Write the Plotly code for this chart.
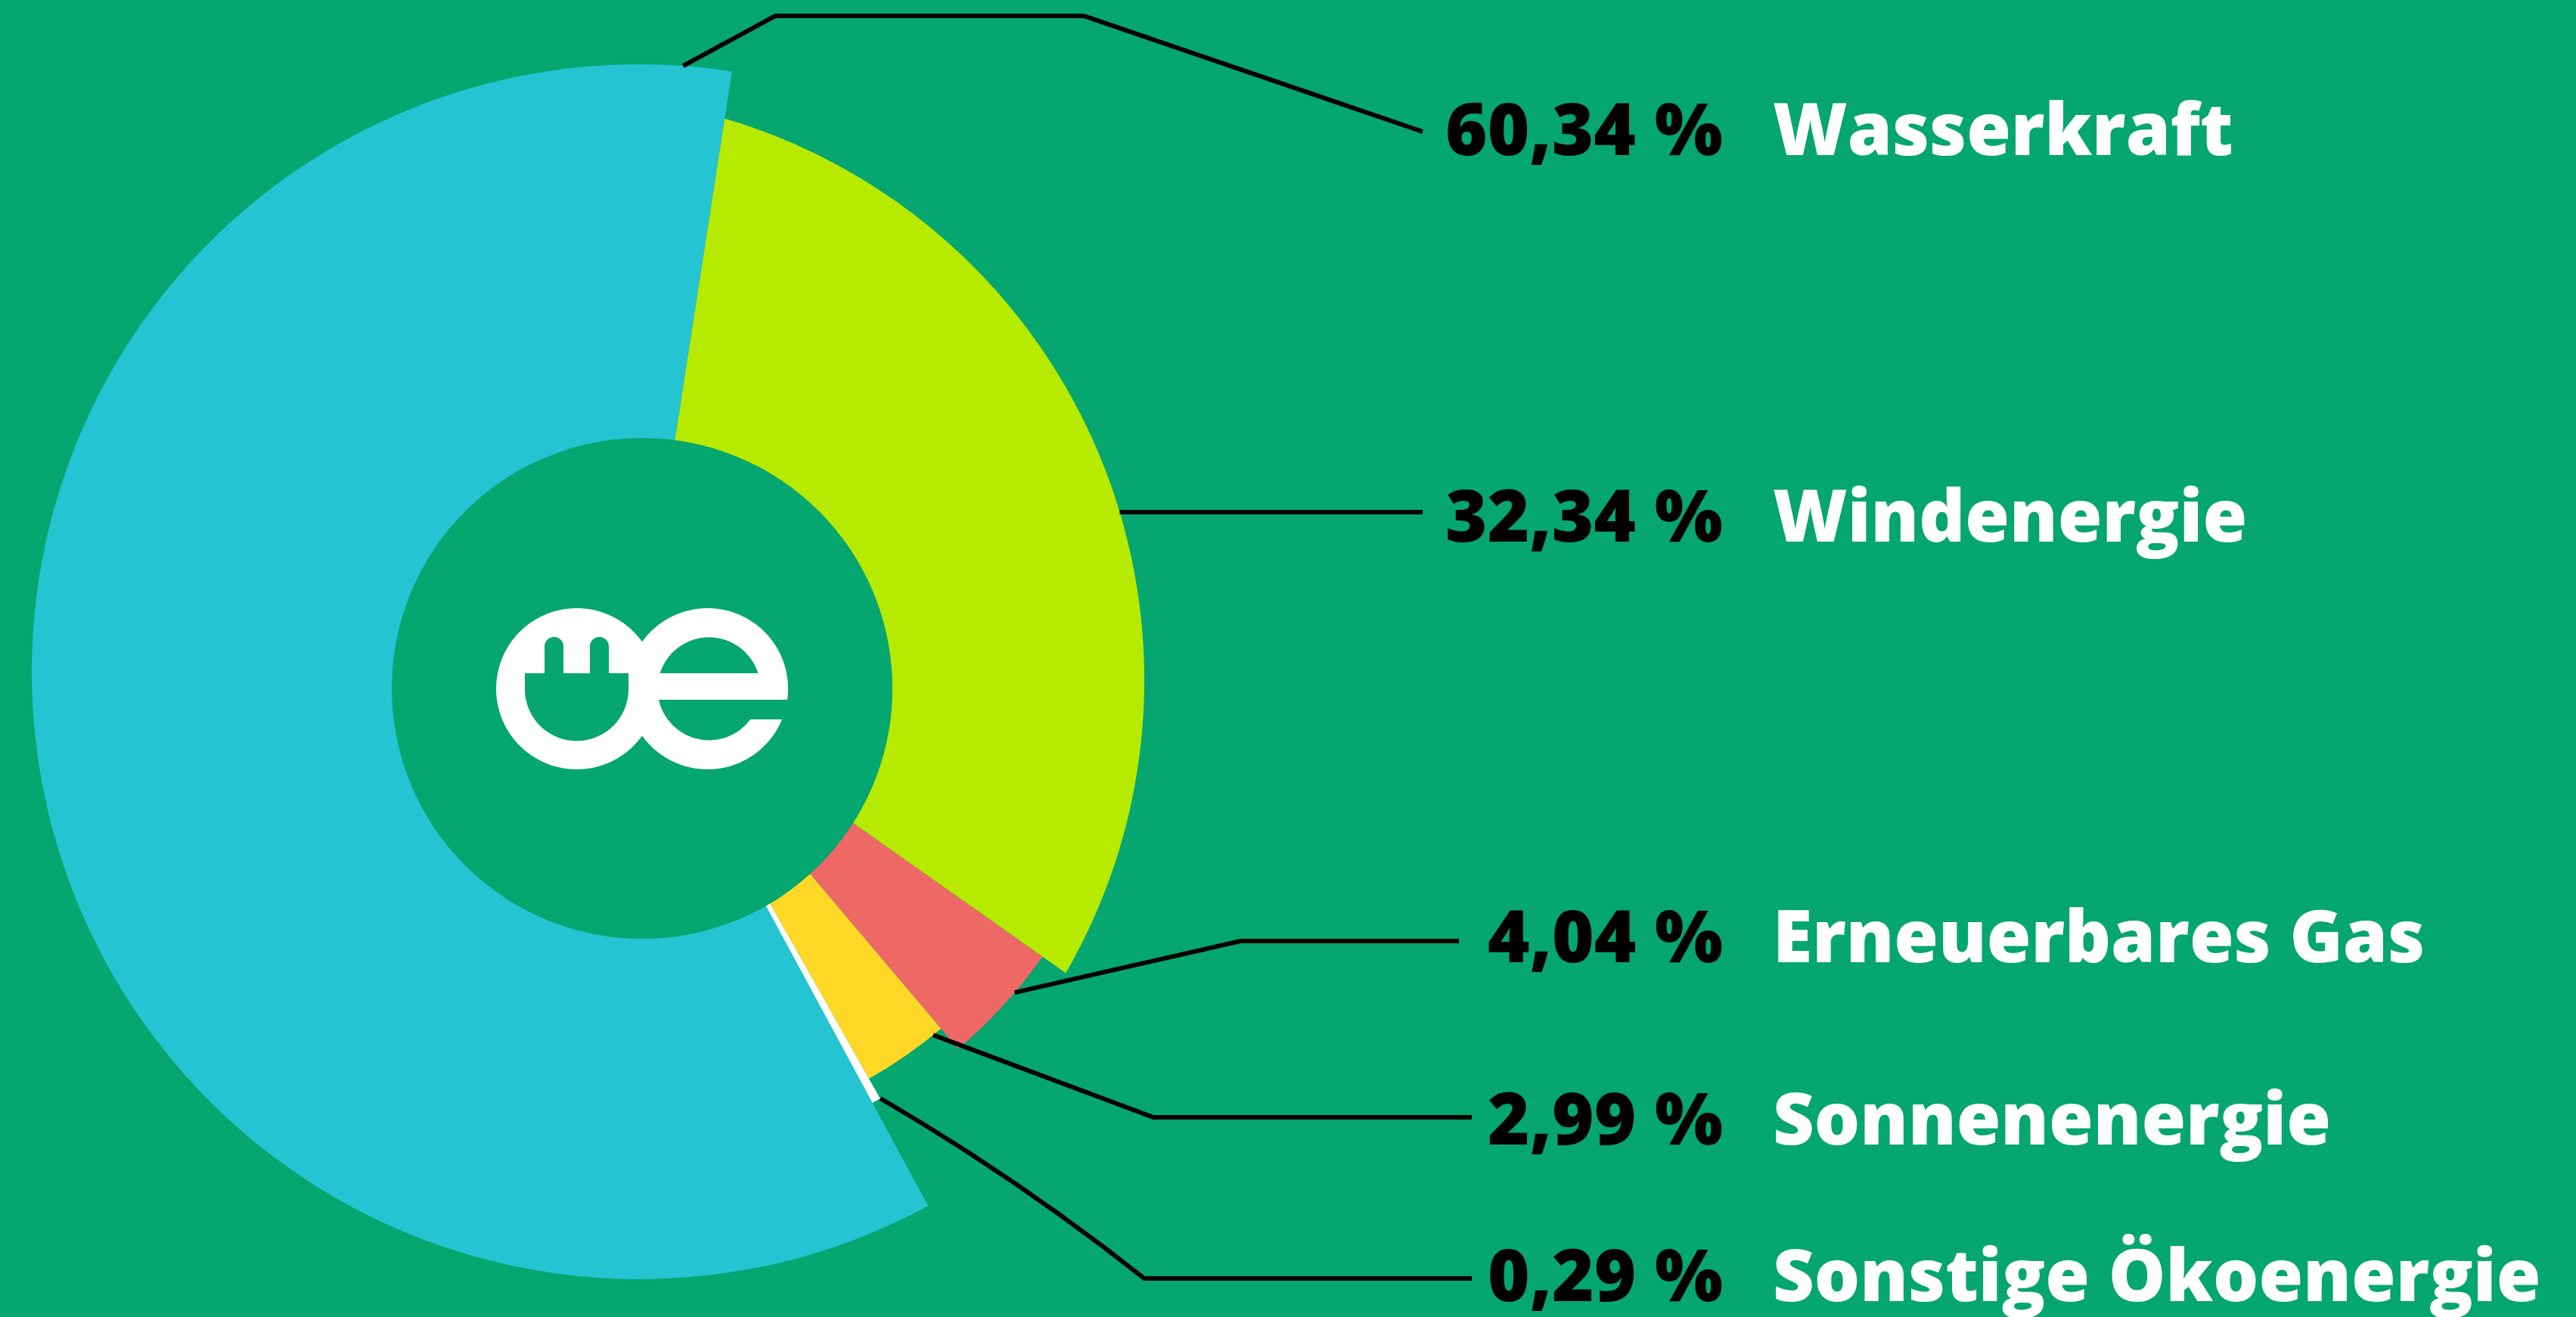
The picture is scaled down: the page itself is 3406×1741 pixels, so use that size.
import numpy as np
import plotly.graph_objects as go

# ---------------- data ----------------
categories = ["Windenergie", "Erneuerbares Gas", "Sonnenenergie",
              "Sonstige Ökoenergie", "Wasserkraft"]          # clockwise order
shares = [32.34, 4.04, 2.99, 0.29, 60.34]                     # percent
label_order = ["Wasserkraft", "Windenergie", "Erneuerbares Gas",
               "Sonnenenergie", "Sonstige Ökoenergie"]        # top -> bottom

# ---------------- styling / layout ----------------
W, H = 3406, 1741
BG = "#05A66F"
slice_colors = ["#B6EA00", "#EE6865", "#FFD826", "#FFFFFF", "#25C4D3"]
slice_radius_px = [700, 653, 618, 648, 803]   # decorative outer radii
# the wind slice's outer edge is an arc of an off-centre circle (px)
WIND_ARC_C, WIND_ARC_R = (739, 899), 774
START_DEG = 8.8                                # where the first slice begins
CX, CY = 845, 888                              # pie centre (px)
RMAX = 840                                     # radial axis range (px)
HOLE_C, HOLE_R = (849, 910), 331

label_y = [168, 679, 1235, 1476, 1683]
pct_right_x = 2280
name_left_x = 2342
FONT = "Open Sans"
FSIZE = 95


def to_paper(x, y):
    return x / W, 1 - y / H


def polar_px(theta_deg, r):
    t = np.radians(theta_deg)
    return CX + r * np.sin(t), CY - r * np.cos(t)


def wind_edge_r(theta_deg):
    """distance from pie centre to the wind arc along direction theta"""
    t = np.radians(theta_deg)
    dx, dy = np.sin(t), -np.cos(t)
    vx, vy = CX - WIND_ARC_C[0], CY - WIND_ARC_C[1]
    b = vx * dx + vy * dy
    return -b + np.sqrt(b * b - (vx * vx + vy * vy) + WIND_ARC_R ** 2)


def path_pts(pts, close=True):
    s = "M " + " L ".join("%.6f,%.6f" % to_paper(x, y) for x, y in pts)
    return s + (" Z" if close else "")


# angles from the shares
spans = [s * 3.6 for s in shares]
edges = START_DEG + np.concatenate([[0], np.cumsum(spans)])
mids = (edges[:-1] + edges[1:]) / 2

fig = go.Figure()
# wind slice (off-centre outer arc)
wt = np.linspace(edges[0], edges[1], 240)
fig.add_trace(go.Scatterpolar(
    theta=np.concatenate([[mids[0]], wt, [mids[0]]]),
    r=np.concatenate([[0], wind_edge_r(wt), [0]]),
    mode="lines", fill="toself", fillcolor=slice_colors[0],
    line=dict(width=0, color=slice_colors[0]),
    hoverinfo="skip", showlegend=False,
))
# remaining slices
fig.add_trace(go.Barpolar(
    theta=mids[1:], width=spans[1:], r=slice_radius_px[1:],
    marker=dict(color=slice_colors[1:], line=dict(width=0)),
    hoverinfo="skip", showlegend=False,
))

fig.update_layout(
    width=W, height=H,
    margin=dict(l=0, r=0, t=0, b=0),
    paper_bgcolor=BG, plot_bgcolor=BG,
    showlegend=False,
    polar=dict(
        domain=dict(x=[(CX - RMAX) / W, (CX + RMAX) / W],
                    y=[1 - (CY + RMAX) / H, 1 - (CY - RMAX) / H]),
        bgcolor="rgba(0,0,0,0)",
        hole=0,
        radialaxis=dict(visible=False, range=[0, RMAX]),
        angularaxis=dict(visible=False, rotation=90, direction="clockwise",
                         showgrid=False),
    ),
)

shapes = []
# centre hole
hx0, hy0 = to_paper(HOLE_C[0] - HOLE_R, HOLE_C[1] + HOLE_R)
hx1, hy1 = to_paper(HOLE_C[0] + HOLE_R, HOLE_C[1] - HOLE_R)
shapes.append(dict(type="circle", xref="paper", yref="paper",
                   x0=hx0, y0=hy0, x1=hx1, y1=hy1,
                   fillcolor=BG, line=dict(width=0), layer="above"))


# ---- logo ----
def circle_pts(cx, cy, r, a0=0, a1=360, n=120):
    a = np.radians(np.linspace(a0, a1, n))
    return [(cx + r * np.cos(t), cy + r * np.sin(t)) for t in a]


def add_poly(pts, color):
    shapes.append(dict(type="path", xref="paper", yref="paper",
                       path=path_pts(pts), fillcolor=color,
                       line=dict(width=0), layer="above"))


add_poly(circle_pts(762.5, 910.5, 106.5), "white")
add_poly(circle_pts(935.5, 910.5, 106.5), "white")
# u inner (plug body)
u = [(694, 890), (831, 890), (831, 911)] + circle_pts(762.5, 911, 68.5, 0, 180) + [(694, 911)]
add_poly(u, BG)
# prongs
for px0 in (720, 780):
    pr = [(px0, 890), (px0, 854.5)] + circle_pts(px0 + 12.5, 854.5, 12.5, 180, 360, 40) + [(px0 + 25, 890)]
    add_poly(pr, BG)
# e counters
ecx, ecy, er = 937.5, 910.5, 68
a_top = np.degrees(np.arcsin((890 - ecy) / er))       # negative angle
add_poly(circle_pts(ecx, ecy, er, 180 - a_top, 360 + a_top, 80), BG)
a_bot = np.degrees(np.arcsin((925 - ecy) / er))
add_poly(circle_pts(ecx, ecy, er, a_bot, 180 - a_bot, 80), BG)
add_poly([(ecx, 925), (1052, 925), (1052, 951), (ecx, 951)], BG)

# ---- leader lines ----
LINE = dict(color="black", width=6)
name_to_idx = {c: i for i, c in enumerate(categories)}


def anchor(name, theta):
    i = name_to_idx[name]
    return polar_px(theta, slice_radius_px[i])


def add_line(pts):
    shapes.append(dict(type="path", xref="paper", yref="paper",
                       path=path_pts(pts, close=False),
                       fillcolor="rgba(0,0,0,0)", line=LINE, layer="above"))


# Wasserkraft
a = anchor("Wasserkraft", 364.15)
add_line([a, (1025, 21), (1433, 21), (1881, 174)])
# Windenergie (horizontal from the arc)
yw = 677
xw = WIND_ARC_C[0] + np.sqrt(WIND_ARC_R ** 2 - (WIND_ARC_C[1] - yw) ** 2)
add_line([(xw, yw), (1881, yw)])
# Gas
a = anchor("Erneuerbares Gas", 130.5)
add_line([a, (1640, 1244), (1929, 1244)])
# Sonne
a = anchor("Sonnenenergie", 141.0)
add_line([a, (1525, 1477), (1946, 1477)])
# Sonstige (slightly curved)
a = anchor("Sonstige Ökoenergie", 150.5)
p0 = to_paper(*a)
pc = to_paper(1346, 1558)
p2 = to_paper(1513, 1690)
p3 = to_paper(1946, 1690)
shapes.append(dict(type="path", xref="paper", yref="paper",
                   path="M %.6f,%.6f Q %.6f,%.6f %.6f,%.6f L %.6f,%.6f" % (*p0, *pc, *p2, *p3),
                   fillcolor="rgba(0,0,0,0)", line=LINE, layer="above"))

fig.update_layout(shapes=shapes)

# ---- labels ----
share_of = dict(zip(categories, shares))
annotations = []
for name, y in zip(label_order, label_y):
    pct = ("%.2f" % share_of[name]).replace(".", ",") + " %"
    xp, yp = to_paper(pct_right_x, y)
    annotations.append(dict(x=xp, y=yp, xref="paper", yref="paper",
                            text=pct, showarrow=False,
                            xanchor="right", yanchor="middle",
                            font=dict(family=FONT, size=FSIZE, color="black", weight=800)))
    xn, _ = to_paper(name_left_x, y)
    annotations.append(dict(x=xn, y=yp, xref="paper", yref="paper",
                            text=name, showarrow=False,
                            xanchor="left", yanchor="middle",
                            font=dict(family=FONT, size=FSIZE, color="white", weight=800)))
fig.update_layout(annotations=annotations)

fig.write_html("out.html")
